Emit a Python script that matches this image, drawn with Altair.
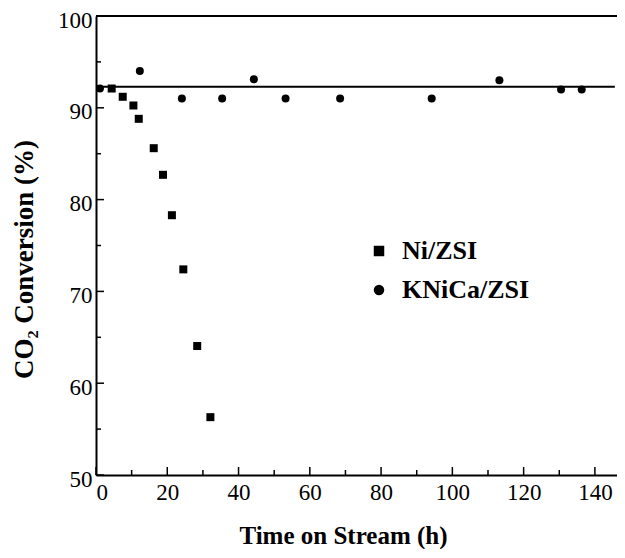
import altair as alt
import pandas as pd

# Data
ni_x = [4.4, 7.5, 10.5, 12.0, 16.2, 18.8, 21.3, 24.5, 28.4, 32.1]
ni_y = [92.1, 91.2, 90.25, 88.8, 85.6, 82.7, 78.3, 72.4, 64.05, 56.3]
kn_x = [1.1, 12.3, 24.1, 35.4, 44.3, 53.2, 68.5, 94.2, 113.2, 130.5, 136.3]
kn_y = [92.1, 94.0, 91.0, 91.0, 93.1, 91.0, 91.0, 91.0, 93.0, 92.0, 92.0]
series = ["Ni/ZSI", "KNiCa/ZSI"]
line_x = [0, 145.6]
line_y = 92.3
x_major = [0, 20, 40, 60, 80, 100, 120, 140]
x_minor = [10, 30, 50, 70, 90, 110, 130]
y_major = [50, 60, 70, 80, 90, 100]
y_minor = [55, 65, 75, 85, 95]

X_MAX = 146.2
W, H = 521, 459
FONT = "Liberation Serif"

pts = pd.DataFrame(
    {"x": ni_x + kn_x,
     "y": ni_y + kn_y,
     "s": [series[0]] * len(ni_x) + [series[1]] * len(kn_x)}
)

xs = alt.Scale(domain=[0, X_MAX], nice=False, zero=False)
ys = alt.Scale(domain=[50, 100], nice=False, zero=False)

xaxis = alt.Axis(values=x_major, ticks=False, grid=False, domainColor="black",
                 domainWidth=2, labelFont=FONT, labelFontSize=23, labelColor="black",
                 labelPadding=6, title="Time on Stream (h)", titleFont=FONT,
                 titleFontSize=25, titleFontWeight="bold", titleColor="black",
                 titleX=247, titleY=48, titleBaseline="top", titleAlign="center")

yaxis = alt.Axis(values=y_major, ticks=False, grid=False, domainColor="black",
                 domainWidth=2, labelFont=FONT, labelFontSize=23, labelColor="black",
                 labelPadding=4, labelOffset=4, title="CO₂ Conversion (%)",
                 titleFont=FONT, titleFontSize=27, titleFontWeight="bold",
                 titleColor="black", titleAngle=270, titleX=-72, titleY=243,
                 titleAlign="center", titleBaseline="middle")

points = alt.Chart(pts).mark_point(filled=True, opacity=1, size=64, color="black").encode(
    x=alt.X("x:Q", scale=xs, axis=xaxis),
    y=alt.Y("y:Q", scale=ys, axis=yaxis),
    shape=alt.Shape("s:N", sort=series,
                    scale=alt.Scale(domain=series, range=["square", "circle"]),
                    legend=alt.Legend(title=None, orient="none", legendX=270, legendY=222,
                                      symbolSize=110, symbolFillColor="black",
                                      symbolStrokeColor="black", symbolStrokeWidth=0,
                                      labelFont=FONT, labelFontSize=26,
                                      labelFontWeight="bold", labelColor="black",
                                      labelOffset=10, rowPadding=13, padding=0,
                                      labelLimit=300)),
)

hline = alt.Chart(pd.DataFrame({"x": [line_x[0]], "x2": [line_x[1]], "y": [line_y]})).mark_rule(
    color="black", strokeWidth=2).encode(
    x=alt.X("x:Q", scale=xs), x2="x2:Q", y=alt.Y("y:Q", scale=ys))

top = alt.Chart(pd.DataFrame({"x": [0], "x2": [X_MAX], "y": [100]})).mark_rule(
    color="black", strokeWidth=2).encode(
    x=alt.X("x:Q", scale=xs), x2="x2:Q", y=alt.Y("y:Q", scale=ys))

ytm = alt.Chart(pd.DataFrame({"y": y_major})).mark_rule(color="black", strokeWidth=1.5).encode(
    y=alt.Y("y:Q", scale=ys), x=alt.value(0), x2=alt.value(8))
ytn = alt.Chart(pd.DataFrame({"y": y_minor})).mark_rule(color="black", strokeWidth=1.5).encode(
    y=alt.Y("y:Q", scale=ys), x=alt.value(0), x2=alt.value(5))
xtm = alt.Chart(pd.DataFrame({"x": x_major})).mark_rule(color="black", strokeWidth=1.5).encode(
    x=alt.X("x:Q", scale=xs), y=alt.value(H), y2=alt.value(H - 8))
xtn = alt.Chart(pd.DataFrame({"x": x_minor})).mark_rule(color="black", strokeWidth=1.5).encode(
    x=alt.X("x:Q", scale=xs), y=alt.value(H), y2=alt.value(H - 5))

chart = alt.layer(top, hline, ytm, ytn, xtm, xtn, points).properties(
    width=W, height=H,
    autosize=alt.AutoSizeParams(type="none"),
    padding={"left": 88, "top": 8, "right": 0, "bottom": 74},
).configure_view(stroke=None).configure(background="white")

chart.save("out.html", embed_options={"renderer": "svg", "actions": False})
